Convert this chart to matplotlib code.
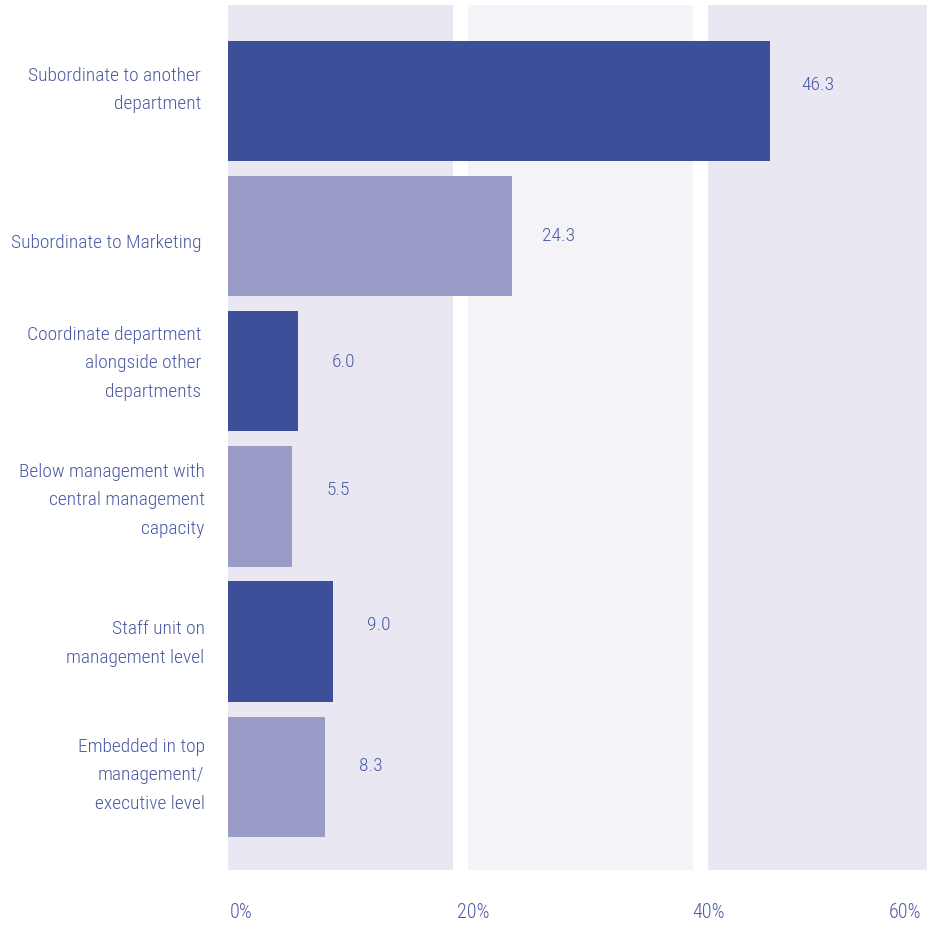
import matplotlib
matplotlib.use("Agg")
import matplotlib.pyplot as plt
from matplotlib import font_manager

categories = [
    "Subordinate to another\ndepartment",
    "Subordinate to Marketing",
    "Coordinate department\nalongside other\ndepartments",
    "Below management with\ncentral management\ncapacity",
    "Staff unit on\nmanagement level",
    "Embedded in top\nmanagement/\nexecutive level",
]
values = [46.3, 24.3, 6.0, 5.5, 9.0, 8.3]
value_labels = ["46.3", "24.3", "6.0", "5.5", "9.0", "8.3"]
tick_values = [0, 20, 40, 60]
tick_labels = ["0%", "20%", "40%", "60%"]

names = {f.name for f in font_manager.fontManager.ttflist}
cands = ["Liberation Sans Narrow", "Roboto Condensed", "Open Sans Condensed", "Lato", "DejaVu Sans"]
fam = next(c for c in cands if c in names)
plt.rcParams['font.family'] = [fam, 'DejaVu Sans']
plt.rcParams['font.weight'] = 'light'

dark = "#3c4f98"
light = "#9a9cc7"
band1 = "#e8e7f2"
band2 = "#f3f3f8"
txt = "#4a5aa6"
fs = 14

fig = plt.figure(figsize=(9.28, 9.26), dpi=100)
ax = fig.add_axes([228/928, 1-870/926, 1-228/928, (870-5)/926])
ax.set_xlim(0, 59.8)
ax.set_ylim(5.69, -0.71)

# background bands
ax.axvspan(0, 19.25, color=band1, zorder=0, lw=0)
ax.axvspan(20.5, 39.75, color=band2, zorder=0, lw=0)
ax.axvspan(41.0, 60, color=band1, zorder=0, lw=0)

colors = [dark if i % 2 == 0 else light for i in range(len(values))]
ypos = list(range(len(values)))
ax.barh(ypos, values, height=0.89, color=colors, zorder=2)

label_dy = [-0.12, 0.0, -0.07, -0.12, -0.12, -0.08]
label_dx = [4.1, 3.9, 3.9, 3.9, 3.9, 3.9]
for y, v, lab, dy, dx in zip(ypos, values, value_labels, label_dy, label_dx):
    ax.text(v + dx, y + dy, lab, ha="center", va="center", fontsize=fs, color=txt, zorder=3)

label_x = [-2.3, -2.3, -2.3, -2.0, -2.0, -2.0]
cat_dy = [-0.08, 0.052, -0.058, -0.045, 0.015, -0.012]
for y, c, lx, dy in zip(ypos, categories, label_x, cat_dy):
    ax.text(lx, y + dy, c, ha="right", va="center", fontsize=fs, color=txt,
            linespacing=1.75, transform=ax.transData, clip_on=False)

ax.set_yticks([])
ax.set_xticks([])
for s in ax.spines.values():
    s.set_visible(False)

tick_x = [0.15, 19.6, 39.7, 59.2]
tick_ha = ["left", "left", "left", "right"]
for tx, lab, ha in zip(tick_x, tick_labels, tick_ha):
    ax.text(tx, -(912-870)/865, lab, ha=ha, va="center", fontsize=14.5, color=txt,
            transform=ax.get_xaxis_transform(), clip_on=False)

fig.savefig("out.png", dpi=100)
